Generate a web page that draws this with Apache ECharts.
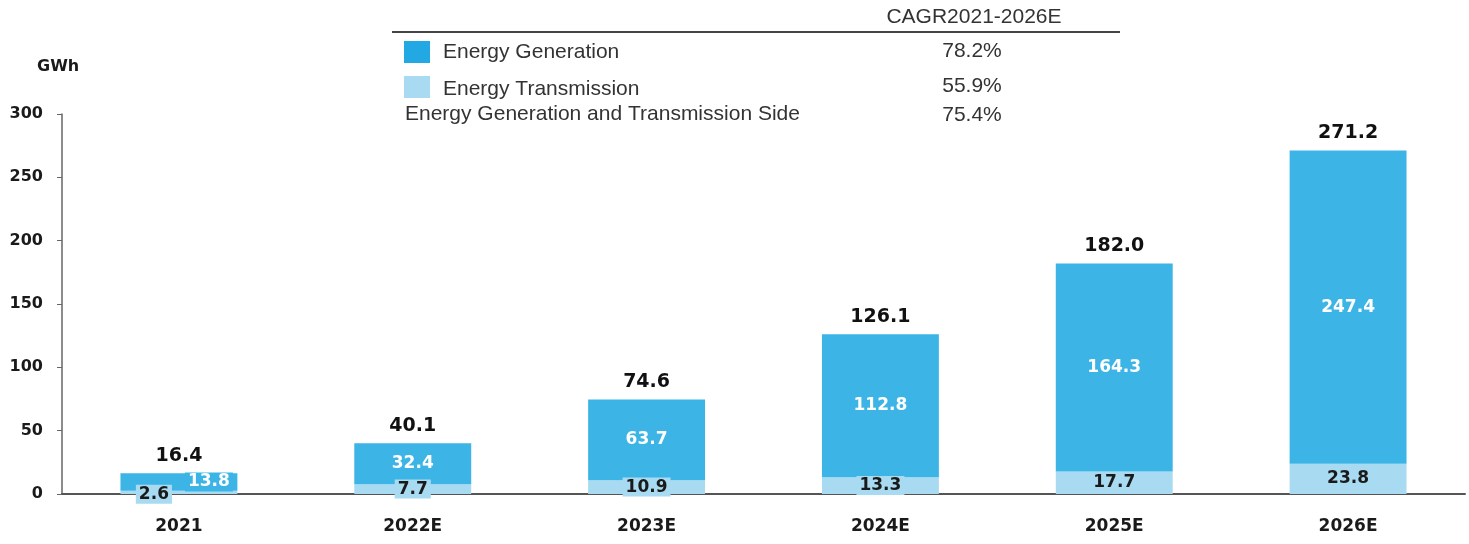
<!DOCTYPE html>
<html><head><meta charset="utf-8">
<script src="https://cdn.jsdelivr.net/npm/echarts@6/dist/echarts.min.js"></script>
<style>html,body{margin:0;padding:0;background:#fff}#c{width:1469px;height:544px}</style>
</head><body><div id="c"></div>
<script>
const categories = ['2021', '2022E', '2023E', '2024E', '2025E', '2026E'];
const transmission = [2.6, 7.7, 10.9, 13.3, 17.7, 23.8];
const generation = [13.8, 32.4, 63.7, 112.8, 164.3, 247.4];
const totals = [16.4, 40.1, 74.6, 126.1, 182.0, 271.2];
const yTicks = [0, 50, 100, 150, 200, 250, 300];
const unitLabel = 'GWh';
const legendHeader = 'CAGR2021-2026E';
const legendNames = ['Energy Generation', 'Energy Transmission', 'Energy Generation and Transmission Side'];
const cagrValues = ['78.2%', '55.9%', '75.4%'];

const cGen = '#3cb4e6';
const cTrans = '#a8dbf1';
const boldFont = '"DejaVu Sans", Verdana, sans-serif';
const legFont = '"Liberation Sans", Arial, sans-serif';

const chart = echarts.init(document.getElementById('c'));
const transData = transmission.map((v, i) => i === 0
  ? { value: v, label: { offset: [-25, 2] } } : { value: v });
const genData = generation.map((v, i) => i === 0
  ? { value: v, label: { offset: [30, 0] } } : { value: v });

const labelBase = { fontFamily: boldFont, fontSize: 17, fontWeight: 'bold', padding: [1, 3] };

chart.setOption({
  animation: false,
  textStyle: { fontFamily: boldFont },
  grid: { left: 62, right: 4, top: 114, bottom: 50, containLabel: false },
  xAxis: {
    type: 'category', data: categories,
    axisLine: { lineStyle: { color: '#555', width: 2 } },
    axisTick: { show: false },
    axisLabel: { color: '#1a1a1a', fontSize: 17, fontWeight: 'bold', margin: 24, fontFamily: boldFont }
  },
  yAxis: {
    type: 'value', min: yTicks[0], max: yTicks[yTicks.length - 1], interval: 50,
    splitLine: { show: false },
    axisLine: { show: true, lineStyle: { color: '#666', width: 1.5 } },
    axisTick: { show: true, length: 5, lineStyle: { color: '#666' } },
    axisLabel: { color: '#1a1a1a', fontSize: 16, fontWeight: 'bold', margin: 19, fontFamily: boldFont }
  },
  series: [
    {
      name: legendNames[1], type: 'bar', stack: 's', data: transData, barWidth: '50%',
      itemStyle: { color: cTrans },
      label: Object.assign({ show: true, position: 'inside', color: '#1a1a1a',
        backgroundColor: cTrans, formatter: p => p.value.toFixed(1) }, labelBase)
    },
    {
      name: legendNames[0], type: 'bar', stack: 's', data: genData, barWidth: '50%',
      itemStyle: { color: cGen },
      label: Object.assign({ show: true, position: 'inside', color: '#fff',
        backgroundColor: cGen, formatter: p => p.value.toFixed(1) }, labelBase)
    },
    {
      name: 'total', type: 'bar', stack: 's', data: totals.map(() => 0), barWidth: '50%',
      itemStyle: { color: 'transparent' },
      label: { show: true, position: 'top', distance: 8, color: '#111', fontSize: 19, fontWeight: 'bold',
        fontFamily: boldFont, formatter: p => totals[p.dataIndex].toFixed(1) }
    }
  ],
  graphic: [
    { type: 'text', x: 37, y: 67, style: { text: unitLabel, font: 'bold 16px ' + boldFont, fill: '#1a1a1a', verticalAlign: 'middle' } },
    { type: 'text', x: 974, y: 17, style: { text: legendHeader, font: '21px ' + legFont, fill: '#333', align: 'center', verticalAlign: 'middle' } },
    { type: 'line', shape: { x1: 392, y1: 32, x2: 1120, y2: 32 }, style: { stroke: '#444', lineWidth: 2 } },
    { type: 'rect', shape: { x: 404, y: 41, width: 26, height: 22 }, style: { fill: '#22a8e2' } },
    { type: 'rect', shape: { x: 404, y: 76, width: 26, height: 22 }, style: { fill: cTrans } },
    { type: 'text', x: 443, y: 52, style: { text: legendNames[0], font: '21px ' + legFont, fill: '#333', verticalAlign: 'middle' } },
    { type: 'text', x: 443, y: 89, style: { text: legendNames[1], font: '21px ' + legFont, fill: '#333', verticalAlign: 'middle' } },
    { type: 'text', x: 405, y: 114, style: { text: legendNames[2], font: '21px ' + legFont, fill: '#333', verticalAlign: 'middle' } },
    { type: 'text', x: 972, y: 51, style: { text: cagrValues[0], font: '21px ' + legFont, fill: '#333', align: 'center', verticalAlign: 'middle' } },
    { type: 'text', x: 972, y: 86, style: { text: cagrValues[1], font: '21px ' + legFont, fill: '#333', align: 'center', verticalAlign: 'middle' } },
    { type: 'text', x: 972, y: 115, style: { text: cagrValues[2], font: '21px ' + legFont, fill: '#333', align: 'center', verticalAlign: 'middle' } }
  ]
});
</script></body></html>
